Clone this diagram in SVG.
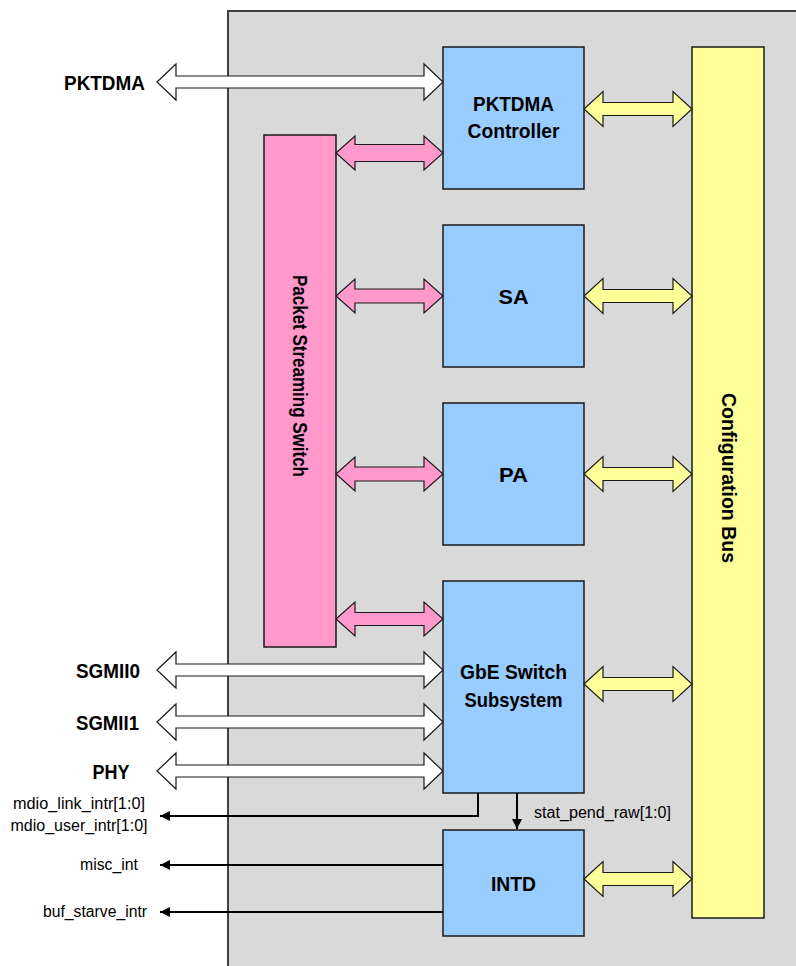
<svg xmlns="http://www.w3.org/2000/svg" width="796" height="966" viewBox="0 0 796 966">
<defs>
<style>
.blk{fill:#99ccff;stroke:#1a1a1a;stroke-width:1.5}
.pink{fill:#ff99cc;stroke:#1a1a1a;stroke-width:1.5}
.yel{fill:#ffff99;stroke:#1a1a1a;stroke-width:1.5}
.wa{fill:#ffffff;stroke:#1a1a1a;stroke-width:1.2}
.pa{fill:#ff99cc;stroke:#1a1a1a;stroke-width:1.2}
.ya{fill:#ffff99;stroke:#1a1a1a;stroke-width:1.2}
.ln{fill:none;stroke:#000;stroke-width:2}
.bt{font-family:"Liberation Sans",Arial,sans-serif;font-weight:bold;font-size:21px;fill:#000}
.st{font-family:"Liberation Sans",Arial,sans-serif;font-size:16px;fill:#000}
</style>
<marker id="ah" viewBox="0 0 10 10" refX="10" refY="5" markerWidth="10" markerHeight="10" markerUnits="userSpaceOnUse" orient="auto">
<path d="M0,0 L10,5 L0,10 z" fill="#000"/>
</marker>
</defs>
<rect x="228" y="11" width="572" height="960" fill="#d9d9d9" stroke="#404040" stroke-width="2"/>

<g id="psw">
<rect class="pink" x="264" y="135" width="72" height="512"/>
<text class="bt" transform="translate(292.5,376) rotate(90)" text-anchor="middle" textLength="202" lengthAdjust="spacingAndGlyphs">Packet Streaming Switch</text>
</g>
<g id="cfgbus">
<rect class="yel" x="692" y="47" width="72" height="871"/>
<text class="bt" transform="translate(721.5,478) rotate(90)" text-anchor="middle" textLength="170" lengthAdjust="spacingAndGlyphs">Configuration Bus</text>
</g>
<g id="pktdma_ctrl">
<rect class="blk" x="443" y="47" width="141" height="142"/>
<text class="bt" x="513.5" y="111" text-anchor="middle" textLength="81" lengthAdjust="spacingAndGlyphs">PKTDMA</text>
<text class="bt" x="513.5" y="138" text-anchor="middle" textLength="92" lengthAdjust="spacingAndGlyphs">Controller</text>
</g>
<g id="sa">
<rect class="blk" x="443" y="225" width="141" height="142"/>
<text class="bt" x="513.5" y="304" text-anchor="middle" textLength="30" lengthAdjust="spacingAndGlyphs">SA</text>
</g>
<g id="pa">
<rect class="blk" x="443" y="403" width="141" height="142"/>
<text class="bt" x="513.5" y="482" text-anchor="middle" textLength="29" lengthAdjust="spacingAndGlyphs">PA</text>
</g>
<g id="gbe">
<rect class="blk" x="443" y="581" width="141" height="212"/>
<text class="bt" x="513.5" y="679" text-anchor="middle" textLength="107" lengthAdjust="spacingAndGlyphs">GbE Switch</text>
<text class="bt" x="513.5" y="707" text-anchor="middle" textLength="98" lengthAdjust="spacingAndGlyphs">Subsystem</text>
</g>
<g id="intd">
<rect class="blk" x="443" y="830" width="141" height="106"/>
<text class="bt" x="513.5" y="891" text-anchor="middle" textLength="45" lengthAdjust="spacingAndGlyphs">INTD</text>
</g>

<g id="ext_labels">
<text class="bt" x="145" y="90" text-anchor="end" textLength="81" lengthAdjust="spacingAndGlyphs">PKTDMA</text>
<text class="bt" x="140" y="677.5" text-anchor="end" textLength="64" lengthAdjust="spacingAndGlyphs">SGMII0</text>
<text class="bt" x="139" y="730" text-anchor="end" textLength="63" lengthAdjust="spacingAndGlyphs">SGMII1</text>
<text class="bt" x="129.5" y="779" text-anchor="end" textLength="37" lengthAdjust="spacingAndGlyphs">PHY</text>
<text class="st" x="145" y="809" text-anchor="end" textLength="132" lengthAdjust="spacingAndGlyphs">mdio_link_intr[1:0]</text>
<text class="st" x="147.5" y="831" text-anchor="end" textLength="137" lengthAdjust="spacingAndGlyphs">mdio_user_intr[1:0]</text>
<text class="st" x="138" y="870" text-anchor="end" textLength="58" lengthAdjust="spacingAndGlyphs">misc_int</text>
<text class="st" x="147" y="917" text-anchor="end" textLength="104" lengthAdjust="spacingAndGlyphs">buf_starve_intr</text>
<text class="st" x="534" y="818" textLength="137" lengthAdjust="spacingAndGlyphs">stat_pend_raw[1:0]</text>
</g>

<g id="connectors">
<polygon class="wa" points="157,82 176,64 176,76 424,76 424,64 443,82 424,100 424,88 176,88 176,100"/>
<polygon class="wa" points="157,670 176,652 176,664 424,664 424,652 443,670 424,688 424,676 176,676 176,688"/>
<polygon class="wa" points="157,722 176,704 176,716 424,716 424,704 443,722 424,740 424,728 176,728 176,740"/>
<polygon class="wa" points="157,771 176,753 176,765 424,765 424,753 443,771 424,789 424,777 176,777 176,789"/>

<polygon class="pa" points="336,153 355,136 355,144.5 424,144.5 424,136 443,153 424,170 424,161.5 355,161.5 355,170"/>
<polygon class="pa" points="336,296 355,279 355,289 424,289 424,279 443,296 424,313 424,303 355,303 355,313"/>
<polygon class="pa" points="336,474 355,457 355,467 424,467 424,457 443,474 424,491 424,481 355,481 355,491"/>
<polygon class="pa" points="336,619 355,602 355,612.5 424,612.5 424,602 443,619 424,636 424,625.5 355,625.5 355,636"/>

<polygon class="ya" points="584,109 603,91.5 603,102.5 673,102.5 673,91.5 692,109 673,126.5 673,115.5 603,115.5 603,126.5"/>
<polygon class="ya" points="584,296 603,278.5 603,289.5 673,289.5 673,278.5 692,296 673,313.5 673,302.5 603,302.5 603,313.5"/>
<polygon class="ya" points="584,474 603,456.5 603,467.5 673,467.5 673,456.5 692,474 673,491.5 673,480.5 603,480.5 603,491.5"/>
<polygon class="ya" points="584,684 603,666.5 603,677.5 673,677.5 673,666.5 692,684 673,701.5 673,690.5 603,690.5 603,701.5"/>
<polygon class="ya" points="584,879 603,861.5 603,872.5 673,872.5 673,861.5 692,879 673,896.5 673,885.5 603,885.5 603,896.5"/>

<polyline class="ln" points="478,793 478,816 160,816" marker-end="url(#ah)"/>
<line class="ln" x1="517" y1="793" x2="517" y2="829" marker-end="url(#ah)"/>
<line class="ln" x1="443" y1="865" x2="160" y2="865" marker-end="url(#ah)"/>
<line class="ln" x1="443" y1="912" x2="160" y2="912" marker-end="url(#ah)"/>
</g>
</svg>
